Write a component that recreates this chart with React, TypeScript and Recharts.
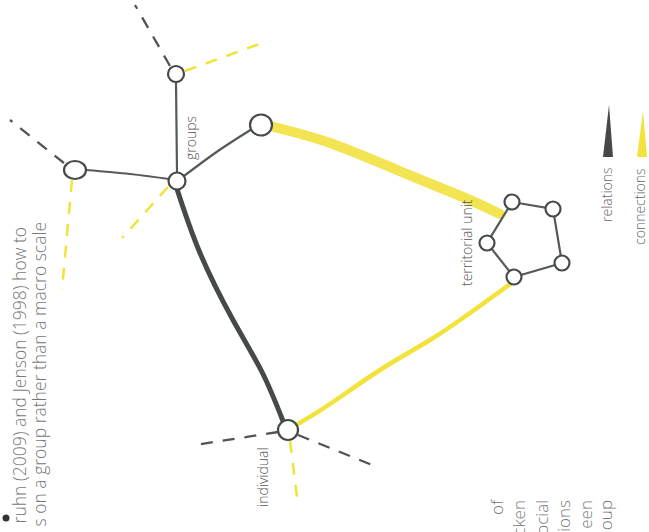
import React from "react";
import { ScatterChart, Scatter, XAxis, YAxis } from "recharts";

const W = 649;
const H = 532;

// node positions
const hubNodes = [
    { id: "top", x: 176, y: 74 },
    { id: "left", x: 75, y: 170 },
    { id: "groups", x: 177, y: 181 },
    { id: "right", x: 261, y: 125 },
    { id: "individual", x: 288, y: 430 },
];
const unitNodes = [
    { id: "u1", x: 512, y: 202 },
    { id: "u2", x: 553, y: 209 },
    { id: "u3", x: 562, y: 263 },
    { id: "u4", x: 514, y: 277 },
    { id: "u5", x: 487, y: 243 },
];

// thin relations between the group nodes
const relationEdges = [
    [[176, 82], [177, 172]],
    [[86, 170], [130, 174], [169, 179]],
    [[184, 176], [218, 151], [252, 129]],
];
// strong relation group -> individual
const relationMain = [[177, 189], [200, 253], [233, 320], [262, 372], [283, 421]];
// connections to the territorial unit
const connectionWide = [[270, 126], [330, 143], [397, 170], [463, 197], [500, 214]];
const connectionThin = [[513, 282], [470, 313], [430, 340], [380, 370], [330, 404], [296, 425]];
const unitRing = [[512, 202], [553, 209], [562, 263], [514, 277], [487, 243], [512, 202]];

const darkDashes = [
    [[170, 66], [135, 5]],
    [[64, 163], [10, 120]],
    [[278, 432], [195, 445]],
    [[298, 435], [372, 465]],
];
const yellowDashes = [
    [[185, 71], [262, 43]],
    [[72, 180], [62, 290]],
    [[168, 187], [122, 238]],
    [[290, 441], [297, 497]],
];

const nodeLabels = [
    { text: "groups", x: 196, y: 160 },
    { text: "individual", x: 268, y: 507 },
    { text: "territorial unit", x: 472, y: 286 },
];
const legendItems = [
    { text: "relations", x: 612, y: 222, kind: "dark" },
    { text: "connections", x: 645, y: 245, kind: "yellow" },
];
const leftLines = [
    { text: "ruhn (2009) and Jenson (1998) how to", x: 26, y: 227 },
    { text: "s on a group rather than a macro scale", x: 46, y: 222 },
];
const rightLines = [
    { text: "of", x: 503, y: 500 },
    { text: "cken", x: 525, y: 500 },
    { text: "ocial", x: 548, y: 500 },
    { text: "ions", x: 570, y: 500 },
    { text: "een", x: 592, y: 500 },
    { text: "oup", x: 612, y: 500 },
];
const bullets = [{ x: 6, y: 518 }];

const DARK = "#454a48";
const YELLOW = "#f2e33a";
const FONT = "'Open Sans', 'Noto Sans', sans-serif";

const NODE_R: Record<string, [number, number]> = {
    top: [8, 8],
    left: [11, 9],
    groups: [8.5, 8.5],
    right: [11, 10.5],
    individual: [10, 10],
};

const pts = (list: number[][]) => list.map(([x, y]) => ({ x, y }));
const None = () => <g />;

const NodeShape = (props: any) => {
    const { cx, cy, payload } = props;
    const [rx, ry] = NODE_R[payload.id] || [7.5, 7.5];
    return <ellipse cx={cx} cy={cy} rx={rx} ry={ry} fill="#fff" stroke={DARK} strokeWidth={2.2} />;
};

const rotated = (size: number, fill: string, anchor: string, weight = 300) => (props: any) => {
    const { cx, cy, payload } = props;
    return (
        <text
            x={cx}
            y={cy}
            transform={`rotate(-90 ${cx} ${cy})`}
            textAnchor={anchor}
            fontFamily={FONT}
            fontWeight={weight}
            fontSize={size}
            fill={fill}
        >
            {payload.text}
        </text>
    );
};

const LegendShape = (props: any) => {
    const { cx, cy, payload } = props;
    const mark = payload.kind === "dark"
        ? { fill: DARK, top: 105, dx: -4 }
        : { fill: YELLOW, top: 111, dx: -3 };
    const bx = cx + mark.dx;
    return (
        <g>
            <polygon
                points={`${bx + 1},${mark.top} ${bx + 5},157 ${bx - 5},157`}
                fill={mark.fill}
            />
            <text
                x={cx}
                y={cy}
                transform={`rotate(-90 ${cx} ${cy})`}
                textAnchor="start"
                fontFamily={FONT}
                fontWeight={300}
                fontSize={14}
                fill="#666"
            >
                {payload.text}
            </text>
        </g>
    );
};

const BulletShape = (props: any) => <circle cx={props.cx} cy={props.cy} r={3.5} fill="#333" />;

const App = () => {
    return (
        <div style={{ position: "absolute", left: 0, top: 0, background: "#fff" }}>
            <ScatterChart width={W} height={H} margin={{ top: 0, right: 0, bottom: 0, left: 0 }}>
                <XAxis type="number" dataKey="x" domain={[0, W]} hide />
                <YAxis type="number" dataKey="y" domain={[0, H]} reversed hide />

                {yellowDashes.map((d, i) => (
                    <Scatter key={`yd-${i}`} data={pts(d)} shape={None} isAnimationActive={false}
                        line={{ stroke: YELLOW, strokeWidth: 2.5, strokeDasharray: "12 10" }} />
                ))}
                {darkDashes.map((d, i) => (
                    <Scatter key={`dd-${i}`} data={pts(d)} shape={None} isAnimationActive={false}
                        line={{ stroke: "#505553", strokeWidth: 2.3, strokeDasharray: "12 10" }} />
                ))}

                <Scatter data={pts(connectionWide)} shape={None} isAnimationActive={false}
                    lineJointType="natural"
                    line={{ stroke: "#f2e452", strokeWidth: 10, strokeLinecap: "round" }} />
                <Scatter data={pts(connectionThin)} shape={None} isAnimationActive={false}
                    lineJointType="natural"
                    line={{ stroke: YELLOW, strokeWidth: 4.5, strokeLinecap: "round" }} />

                {relationEdges.map((d, i) => (
                    <Scatter key={`re-${i}`} data={pts(d)} shape={None} isAnimationActive={false}
                        lineJointType="natural"
                        line={{ stroke: "#555a58", strokeWidth: 2.2 }} />
                ))}
                <Scatter data={pts(relationMain)} shape={None} isAnimationActive={false}
                    lineJointType="natural"
                    line={{ stroke: DARK, strokeWidth: 5, strokeLinecap: "round" }} />
                <Scatter data={pts(unitRing)} shape={None} isAnimationActive={false}
                    line={{ stroke: "#555a58", strokeWidth: 2.2 }} />

                <Scatter data={hubNodes} shape={NodeShape} isAnimationActive={false} />
                <Scatter data={unitNodes} shape={NodeShape} isAnimationActive={false} />

                <Scatter data={nodeLabels} shape={rotated(14, "#555", "start")} isAnimationActive={false} />
                <Scatter data={leftLines} shape={rotated(17.5, "#777", "end")} isAnimationActive={false} />
                <Scatter data={rightLines} shape={rotated(17, "#777", "end")} isAnimationActive={false} />
                <Scatter data={legendItems} shape={LegendShape} isAnimationActive={false} />
                <Scatter data={bullets} shape={BulletShape} isAnimationActive={false} />
            </ScatterChart>
        </div>
    );
};

export default App;
